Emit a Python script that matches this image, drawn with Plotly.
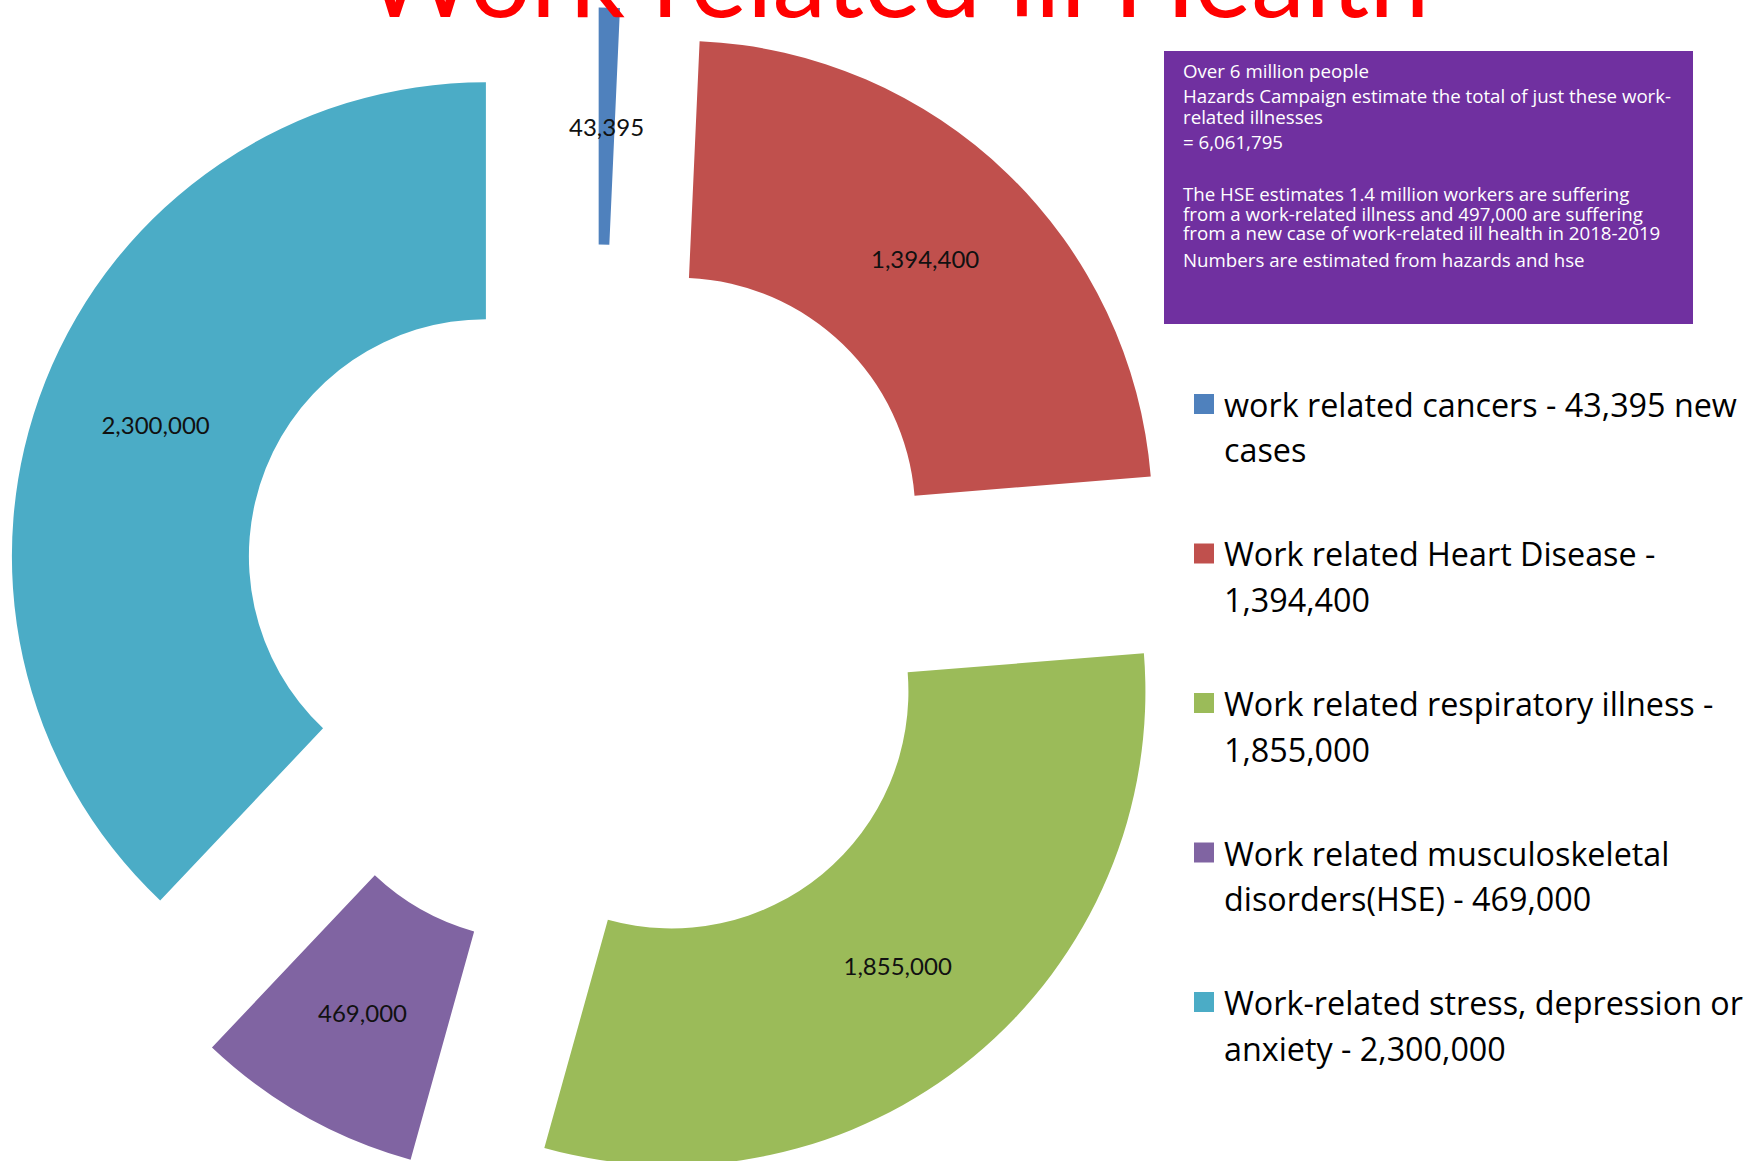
import math
import plotly.graph_objects as go

# ---------------- data ----------------
categories = [
    "work related cancers",
    "Work related Heart Disease",
    "Work related respiratory illness",
    "Work related musculoskeletal disorders(HSE)",
    "Work-related stress, depression or anxiety",
]
values = [43395, 1394400, 1855000, 469000, 2300000]
colors = ["#4F81BD", "#C0504D", "#9BBB59", "#8064A2", "#4BACC6"]
legend_lines = [
    ("work related cancers - 43,395 new", "cases"),
    ("Work related Heart Disease -", "1,394,400"),
    ("Work related respiratory illness -", "1,855,000"),
    ("Work related musculoskeletal", "disorders(HSE) - 469,000"),
    ("Work-related stress, depression or", "anxiety - 2,300,000"),
]
title_text = "Work related ill Health"
box_lines = [
    "Over 6 million people",
    "Hazards Campaign estimate the total of just these work-",
    "related illnesses",
    "= 6,061,795",
    "The HSE estimates 1.4 million workers are suffering",
    "from a work-related illness and 497,000 are suffering",
    "from a new case of work-related ill health in 2018-2019",
    "Numbers are estimated from hazards and hse",
]

# ---------------- layout constants ----------------
W, H = 1762, 1200          # figure is a bit taller than the window (bottom is cut)
CX, CY = 596, 600          # pie centre (px)
R = 474                    # pie radius (px)
PULL = 0.25
HOLE = 0.5
FONT = "Lato"
TEXT_FONT = "Open Sans"

half = R * (1 + PULL)
dom_x = [(CX - half) / W, (CX + half) / W]
dom_y = [1 - (CY + half) / H, 1 - (CY - half) / H]

def px(x):
    return x / W

def py(y):
    return 1 - y / H

# labels: big slices use the native inside text; tiny slices get annotations
small = [v / sum(values) < 0.1 for v in values]
textpos = ["none" if s else "inside" for s in small]

fig = go.Figure(go.Pie(
    labels=categories,
    values=values,
    sort=False,
    direction="clockwise",
    rotation=0,
    hole=HOLE,
    pull=[PULL] * len(values),
    marker=dict(colors=colors, line=dict(width=0)),
    texttemplate="%{value:,}",
    textposition=textpos,
    insidetextorientation="horizontal",
    textfont=dict(family=FONT, size=24, color="#111111"),
    hoverinfo="label+value",
    domain=dict(x=dom_x, y=dom_y),
    showlegend=False,
))

annotations = []
shapes = []

# annotations for the small-slice labels (placed at mid-ring, as the native ones)
total = sum(values)
cum = 0.0
for v, s in zip(values, small):
    a0 = cum / total * 2 * math.pi
    cum += v
    a1 = cum / total * 2 * math.pi
    if s:
        mid = (a0 + a1) / 2
        rr = (PULL + (1 + HOLE) / 2) * R
        annotations.append(dict(
            x=px(CX + rr * math.sin(mid)), y=py(CY - rr * math.cos(mid)),
            xref="paper", yref="paper", text=f"{v:,}", showarrow=False,
            xanchor="center", yanchor="middle",
            font=dict(family=FONT, size=24, color="#111111"),
        ))

# title (top is cut off by the page edge, as in the original)
annotations.append(dict(
    x=px(896), y=py(42), xref="paper", yref="paper", text=title_text,
    showarrow=False, xanchor="center", yanchor="bottom",
    font=dict(family=FONT, size=108, color="#FF0000"),
))

# purple information box
shapes.append(dict(type="rect", xref="paper", yref="paper",
                   x0=px(1164), x1=px(1693), y0=py(51), y1=py(324),
                   fillcolor="#7030A0", line=dict(width=0), layer="above"))
box_y = [70, 96, 116, 142, 193, 213, 233, 259]
for t, yy in zip(box_lines, box_y):
    annotations.append(dict(
        x=px(1181), y=py(yy), xref="paper", yref="paper", text=t,
        showarrow=False, xanchor="left", yanchor="middle",
        font=dict(family=TEXT_FONT, size=18.7, color="#FFFFFF"),
    ))

# legend
leg_y0, leg_step, leg_line = 404, 149.5, 45.5
for i, (lines, c) in enumerate(zip(legend_lines, colors)):
    y1 = leg_y0 + i * leg_step
    shapes.append(dict(type="rect", xref="paper", yref="paper",
                       x0=px(1194), x1=px(1214), y0=py(y1 - 10), y1=py(y1 + 10),
                       fillcolor=c, line=dict(width=0)))
    for k, t in enumerate(lines):
        annotations.append(dict(
            x=px(1222), y=py(y1 + k * leg_line), xref="paper", yref="paper",
            text=t, showarrow=False, xanchor="left", yanchor="middle",
            font=dict(family=TEXT_FONT, size=32.3, color="#000000"),
        ))

fig.update_layout(
    width=W, height=H,
    margin=dict(l=0, r=0, t=0, b=0, pad=0),
    paper_bgcolor="#FFFFFF",
    plot_bgcolor="#FFFFFF",
    annotations=annotations,
    shapes=shapes,
    uniformtext=dict(minsize=24, mode="show"),
)

fig.write_html(
    "out.html",
    config={"displayModeBar": False},
    post_script="document.body.style.margin='0';"
                "document.body.style.overflow='hidden';"
                "document.documentElement.style.overflow='hidden';",
)
